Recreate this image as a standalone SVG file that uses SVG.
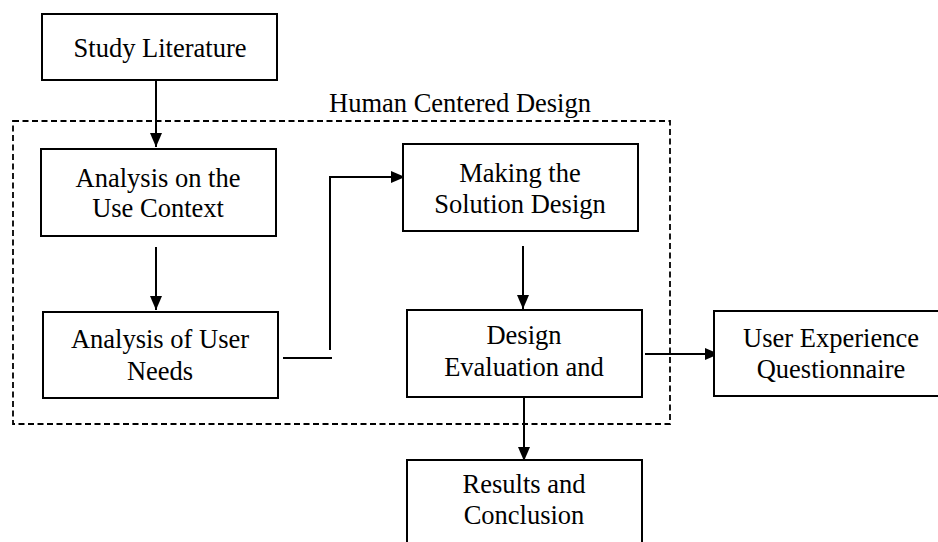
<svg xmlns="http://www.w3.org/2000/svg" width="938" height="542" viewBox="0 0 938 542">
<style>
.box{fill:#fff;stroke:#000;stroke-width:2}
.t{font-family:"Liberation Serif","Times New Roman",serif;font-size:26.5px;fill:#000;text-anchor:middle}
.c{fill:none;stroke:#000;stroke-width:2}
.arr{marker-end:url(#ah)}
</style>
<defs>
<marker id="ah" viewBox="0 0 14 12" refX="14" refY="6" markerWidth="14" markerHeight="12" markerUnits="userSpaceOnUse" orient="auto">
<path d="M0,0 L14,6 L0,12 Z" fill="#000"/>
</marker>
</defs>
<rect width="938" height="542" fill="#fff"/>
<g id="hcd-group">
<rect x="13" y="121" width="657" height="303" fill="none" stroke="#000" stroke-width="1.8" stroke-dasharray="6,3.5"/>
<text class="t" x="460" y="112">Human Centered Design</text>
</g>
<g id="connectors">
<line class="c arr" x1="156" y1="80" x2="156" y2="147"/>
<line class="c arr" x1="156" y1="247" x2="156" y2="310"/>
<line class="c" x1="283" y1="358" x2="332" y2="358"/>
<polyline class="c arr" points="330,350 330,177 405,177"/>
<line class="c arr" x1="523" y1="246" x2="523" y2="309"/>
<line class="c arr" x1="645" y1="354" x2="719" y2="354"/>
<line class="c arr" x1="524" y1="397" x2="524" y2="461"/>
</g>
<g id="study-literature">
<rect class="box" x="42" y="14" width="235" height="66"/>
<text class="t" x="160" y="57">Study Literature</text>
</g>
<g id="analysis-use-context">
<rect class="box" x="41" y="149" width="235" height="87"/>
<text class="t" x="158" y="187">Analysis on the</text>
<text class="t" x="158" y="217">Use Context</text>
</g>
<g id="analysis-user-needs">
<rect class="box" x="43" y="312" width="235" height="86"/>
<text class="t" x="160" y="348">Analysis of User</text>
<text class="t" x="160" y="380">Needs</text>
</g>
<g id="making-solution-design">
<rect class="box" x="403" y="144" width="235" height="87"/>
<text class="t" x="520" y="182">Making the</text>
<text class="t" x="520" y="213">Solution Design</text>
</g>
<g id="design-evaluation">
<rect class="box" x="407" y="310" width="235" height="87"/>
<text class="t" x="524" y="344">Design</text>
<text class="t" x="524" y="376">Evaluation and</text>
</g>
<g id="user-experience-questionnaire">
<rect class="box" x="714" y="311" width="240" height="85"/>
<text class="t" x="831" y="347">User Experience</text>
<text class="t" x="831" y="378">Questionnaire</text>
</g>
<g id="results-conclusion">
<rect class="box" x="407" y="460" width="235" height="100"/>
<text class="t" x="524" y="493">Results and</text>
<text class="t" x="524" y="524">Conclusion</text>
</g>
</svg>
